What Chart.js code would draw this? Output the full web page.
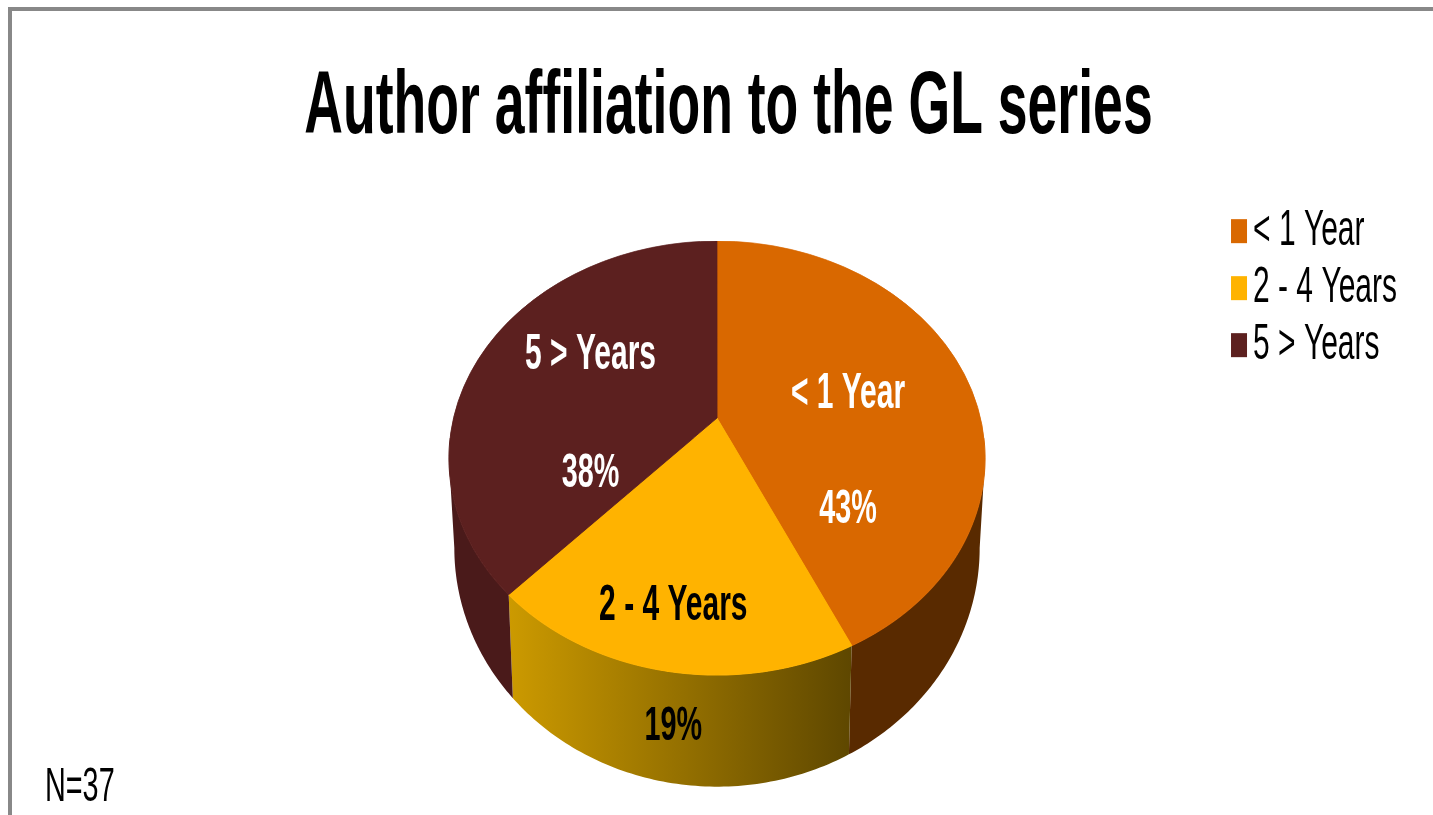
<!DOCTYPE html>
<html>
<head>
<meta charset="utf-8">
<title>Author affiliation to the GL series</title>
<script src="https://cdn.jsdelivr.net/npm/chart.js@4"></script>
<style>
    html, body { margin: 0; padding: 0; background: #fff; overflow: hidden; }
    #wrap { position: relative; width: 1433px; height: 815px; }
    #wrap canvas { position: absolute; left: 0; top: 0; }
    #frame { position: absolute; left: 8px; top: 7px; right: 0; bottom: 0;
             border-left: 4px solid #888; border-top: 4px solid #888; }
</style>
</head>
<body>
<div id="wrap">
    <div id="frame"></div>
    <canvas id="pieChart" width="1433" height="815"></canvas>
</div>
<script>
// dados
const titleText = 'Author affiliation to the GL series';
const noteText = 'N=37';
const categories = ['< 1 Year', '2 - 4 Years', '5 > Years'];
const shares = [43, 19, 38];

const sliceColors = ['#D96800', '#FFB300', '#5C201F'];
const wallColors = ['#592A00', ['#CC9A00', '#5E4700'], '#4A1A1A'];
const labelColors = ['#FFFFFF', '#000000', '#FFFFFF'];
const fontFamily = "'Liberation Sans', Arial, sans-serif";

// the original text is squeezed horizontally, so squeeze it on the canvas too
const textSqueeze = 0.6;
const ctx = document.getElementById('pieChart').getContext('2d');
const rawFillText = ctx.fillText.bind(ctx);
const rawMeasureText = ctx.measureText.bind(ctx);
ctx.fillText = function (text, x, y) {
    ctx.save();
    ctx.translate(x, y);
    ctx.scale(textSqueeze, 1);
    rawFillText(text, 0, 0);
    ctx.restore();
};
ctx.measureText = function (text) {
    const m = rawMeasureText(text);
    return { width: m.width * textSqueeze };
};

// perspective of the tilted pie: circle -> projected ellipse
const view = { cx: 717, cy: 418, radius: 268, a: 209.6, c: -0.1843, d: 0.983, top: 241, bottom: 676 };

function project(angle, f) {
    const t = Math.sin(angle) * f;
    const w = 1 + view.c * t;
    return {
        x: view.cx + view.radius * view.d * Math.cos(angle) * f / w,
        y: view.cy + view.a * t / w
    };
}

function rimBottom(p) {
    return {
        x: view.cx + (p.x - view.cx) * 0.98,
        y: view.cy + (p.y - view.cy) * 1.1 + 86
    };
}

function drawWalls(c, arcs) {
    const lo = Math.asin(-view.c);
    const hi = Math.PI - lo;
    arcs.forEach((arc, i) => {
        const from = Math.max(arc.startAngle, lo);
        const to = Math.min(arc.endAngle, hi);
        if (to <= from) return;
        const top = [];
        for (let n = 0; n <= 80; n++) {
            top.push(project(from + (to - from) * n / 80, 1));
        }
        c.beginPath();
        top.forEach((p, n) => (n ? c.lineTo(p.x, p.y) : c.moveTo(p.x, p.y)));
        top.slice().reverse().forEach((p) => {
            const b = rimBottom(p);
            c.lineTo(b.x, b.y);
        });
        c.closePath();
        if (Array.isArray(wallColors[i])) {
            const g = c.createLinearGradient(top[top.length - 1].x, 0, top[0].x, 0);
            g.addColorStop(0, wallColors[i][0]);
            g.addColorStop(1, wallColors[i][1]);
            c.fillStyle = g;
        } else {
            c.fillStyle = wallColors[i];
        }
        c.fill();
    });
}

// [dx, dy label, dy value] from the middle of each slice
const labelOffsets = [[5, -1, 114], [-21, 74, 195], [-8, -25, 93]];

const tiltPlugin = {
    id: 'tiltPlugin',
    beforeDatasetsDraw(chart) {
        const c = chart.ctx;
        const arcs = chart.getDatasetMeta(0).data;
        drawWalls(c, arcs);

        // one pixel row at a time, each row with its own scale
        for (let row = view.top; row < view.bottom; row++) {
            const yRel = row + 0.5 - view.cy;
            const t = yRel / (view.a - view.c * yRel);
            const w = 1 + view.c * t;
            const kx = view.d / w;
            const ky = (view.a / view.radius) / (w * w);
            c.save();
            c.beginPath();
            c.rect(0, row, chart.width, 1);
            c.clip();
            arcs.forEach((arc) => {
                c.setTransform(kx, 0, 0, ky, view.cx - kx * arc.x,
                    row + 0.5 - ky * (arc.y + view.radius * t));
                arc.draw(c);
            });
            c.restore();
        }
        return false;
    },
    afterDraw(chart) {
        const c = chart.ctx;

        // rótulos das fatias
        chart.getDatasetMeta(0).data.forEach((arc, i) => {
            const mid = project((arc.startAngle + arc.endAngle) / 2, 0.5);
            const off = labelOffsets[i];
            c.save();
            c.fillStyle = labelColors[i];
            c.textAlign = 'center';
            c.textBaseline = 'middle';
            c.font = 'bold 50px ' + fontFamily;
            c.fillText(categories[i], mid.x + off[0], mid.y + off[1]);
            c.font = 'bold 48px ' + fontFamily;
            c.fillText(shares[i] + '%', mid.x + off[0], mid.y + off[2]);
            c.restore();
        });

        // legend squares sit closer to the text than the library puts them
        chart.legend.legendHitBoxes.forEach((box, i) => {
            c.fillStyle = sliceColors[i];
            c.fillRect(box.left + 3, box.top + box.height / 2 - 12, 16, 24);
        });

        c.save();
        c.font = '48px ' + fontFamily;
        c.fillStyle = '#000';
        c.textAlign = 'left';
        c.textBaseline = 'middle';
        c.fillText(noteText, 45, 788);
        c.restore();
    }
};

new Chart(ctx, {
    type: 'pie',
    data: {
        labels: categories,
        datasets: [{
            data: shares,
            backgroundColor: sliceColors,
            borderColor: sliceColors,
            borderWidth: 1,
            radius: view.radius
        }]
    },
    options: {
        responsive: false,
        animation: false,
        events: [],
        layout: { padding: { left: 236, right: 26 } },
        plugins: {
            title: {
                display: true,
                text: titleText,
                fullSize: false,
                color: '#000',
                font: { family: fontFamily, size: 89.3, weight: 'bold', lineHeight: 1.2 },
                padding: { top: 55, bottom: 37 }
            },
            legend: {
                display: true,
                position: 'right',
                align: 'start',
                fullSize: false,
                labels: {
                    boxWidth: 0,
                    color: '#000',
                    padding: 7,
                    font: { family: fontFamily, size: 50 }
                }
            },
            tooltip: { enabled: false }
        }
    },
    plugins: [tiltPlugin]
});
</script>
</body>
</html>
